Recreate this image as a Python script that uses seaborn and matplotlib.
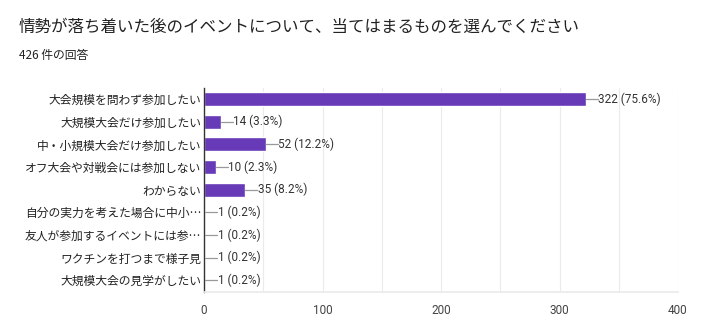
import matplotlib
matplotlib.use("Agg")
import matplotlib.pyplot as plt
import seaborn as sns
import pandas as pd

categories = [
    "大会規模を問わず参加したい",
    "大規模大会だけ参加したい",
    "中・小規模大会だけ参加したい",
    "オフ大会や対戦会には参加しない",
    "わからない",
    "自分の実力を考えた場合に中小…",
    "友人が参加するイベントには参…",
    "ワクチンを打つまで様子見",
    "大規模大会の見学がしたい",
]
counts = [322, 14, 52, 10, 35, 1, 1, 1, 1]
percents = ["75.6%", "3.3%", "12.2%", "2.3%", "8.2%", "0.2%", "0.2%", "0.2%", "0.2%"]
xticks = [0, 100, 200, 300, 400]
title = "情勢が落ち着いた後のイベントについて、当てはまるものを選んでください"
subtitle = "426 件の回答"

sns.set_theme(style="white")
plt.rcParams["font.family"] = ["Noto Sans CJK JP", "DejaVu Sans"]
numfont = ["Roboto", "Noto Sans CJK JP", "DejaVu Sans"]

df = pd.DataFrame({"cat": categories, "n": counts})

fig = plt.figure(figsize=(7.18, 3.34), dpi=100)
ax = fig.add_axes([204/718, 1-291.5/334, (678-204)/718, (291.5-87.7)/334])

sns.barplot(data=df, y="cat", x="n", orient="h", color="#673ab7",
            saturation=1, width=0.62, ax=ax, order=categories)

ax.set_xlim(0, 400)
ax.set_ylim(len(categories)-0.5, -0.5)
ax.set_xticks(xticks)
ax.set_xticks(range(0, 401, 50), minor=True)
ax.grid(True, axis="x", which="both", color="#ebebeb", linewidth=0.8)
ax.set_axisbelow(True)
ax.set_xlabel("")
ax.set_ylabel("")
for s in ["top", "right"]:
    ax.spines[s].set_visible(False)
ax.spines["bottom"].set_color("#ebebeb")
ax.spines["left"].set_color("#333333")
ax.spines["left"].set_linewidth(1.0)
ax.tick_params(axis="x", which="both", length=0, labelsize=8.5, labelcolor="#444444", pad=9)
ax.tick_params(axis="y", length=0, labelsize=8.5, labelcolor="#222222", pad=2)
for t in ax.get_xticklabels():
    t.set_family(numfont)

# leader lines and value labels
px = 400 / (678 - 204)
for i, (n, p) in enumerate(zip(counts, percents)):
    ax.plot([n, n + 12*px], [i, i], color="#999999", lw=0.9, zorder=3)
    ax.text(n + 12.5*px, i, f"{n} ({p})", va="center", ha="left",
            fontsize=8.5, color="#333333", family=numfont)

fig.text(19/718, 1-27/334, title, fontsize=11.9, color="#222222", va="center", ha="left")
fig.text(19/718, 1-56/334, subtitle, fontsize=8.5, color="#222222", va="center", ha="left")

fig.savefig("out.png", dpi=100)
